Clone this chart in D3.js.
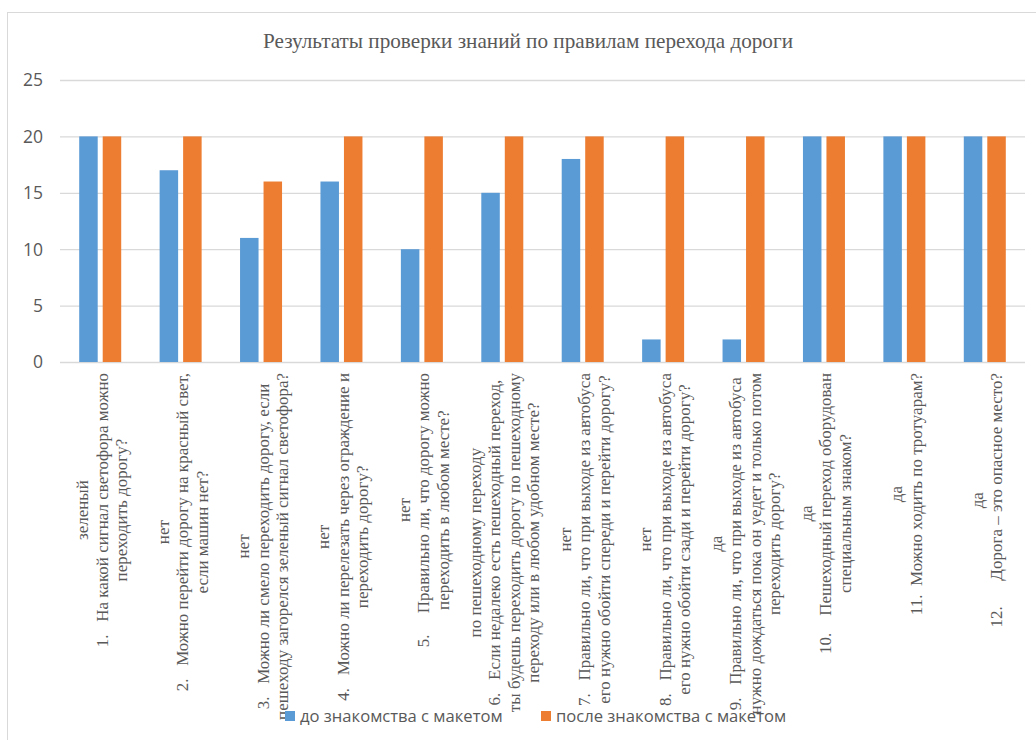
<!DOCTYPE html>
<html>
<head>
<meta charset="utf-8">
<script src="https://cdn.jsdelivr.net/npm/d3@7"></script>
<style>
    html, body { margin: 0; padding: 0; background: #fff; }
    svg { display: block; }
    .serif { font-family: "Liberation Serif", "Tinos", "Times New Roman", Times, "DejaVu Serif", serif; }
    .sans { font-family: "Open Sans", "Noto Sans", sans-serif; }
    .cat-label { white-space: pre; }
</style>
</head>
<body>
<svg id="chart" width="1036" height="740"></svg>
<script>
"use strict";

const title = "Результаты проверки знаний по правилам перехода дороги";

// answer line shown above each question
const answers = ["зеленый", "нет", "нет", "нет", "нет", "по пешеходному переходу",
    "нет", "нет", "да", "да", "да", "да"];

// question text, already broken into lines as in the picture
const questions = [
    ["1.   На какой сигнал светофора можно", "переходить дорогу?"],
    ["2.   Можно перейти дорогу на красный свет,", "если машин нет?"],
    ["3.   Можно ли смело переходить дорогу, если", "пешеходу загорелся зеленый сигнал светофора?"],
    ["4.   Можно ли перелезать через ограждение и", "переходить дорогу?"],
    ["5.     Правильно ли, что дорогу можно", "переходить в любом месте?"],
    ["6.   Если недалеко есть пешеходный переход,", "ты будешь переходить дорогу по пешеходному", "переходу или в любом удобном месте?"],
    ["7.   Правильно ли, что при выходе из автобуса", "его нужно обойти спереди и перейти дорогу?"],
    ["8.   Правильно ли, что при выходе из автобуса", "его нужно обойти сзади и перейти дорогу?"],
    ["9.   Правильно ли, что при выходе из автобуса", "нужно дождаться пока он уедет и только потом", "переходить дорогу?"],
    ["10.    Пешеходный переход оборудован", "специальным знаком?"],
    ["11.  Можно ходить по тротуарам?"],
    ["12.      Дорога – это опасное место?"]
];

const seriesNames = ["до знакомства с макетом", "после знакомства с макетом"];
const before = [20, 17, 11, 16, 10, 15, 18, 2, 2, 20, 20, 20];
const after = [20, 20, 16, 20, 20, 20, 20, 20, 20, 20, 20, 20];
const yTicks = [0, 5, 10, 15, 20, 25];

const colors = ["#5B9BD5", "#ED7D31"];
const textGray = "#595959";

const svg = d3.select("#chart");

// outer chart border
svg.append("rect")
    .attr("x", 7.5).attr("y", 12.5)
    .attr("width", 1040).attr("height", 740)
    .attr("fill", "none")
    .attr("stroke", "#d9d9d9");

svg.append("text")
    .attr("class", "serif")
    .attr("x", 528).attr("y", 48)
    .attr("text-anchor", "middle")
    .attr("font-size", 21.2)
    .attr("fill", textGray)
    .text(title);

const plotLeft = 60, plotRight = 1025, plotTop = 80, plotBottom = 362;
const idx = d3.range(answers.length);

const xScale = d3.scaleBand().domain(idx).range([plotLeft, plotRight]).padding(0);
const yScale = d3.scaleLinear().domain([0, 25]).range([plotBottom, plotTop]);

// gridlines
const grid = svg.append("g")
    .attr("transform", `translate(${plotLeft}, 0)`)
    .call(d3.axisLeft(yScale).tickValues(yTicks).tickSize(-(plotRight - plotLeft)).tickFormat(""));
grid.select(".domain").remove();
grid.selectAll("line").attr("stroke", "#d9d9d9").attr("stroke-width", 1.3);

// y tick labels
svg.append("g").selectAll("text")
    .data(yTicks).enter().append("text")
    .attr("class", "sans")
    .attr("x", 43)
    .attr("y", (d) => yScale(d))
    .attr("dy", "0.36em")
    .attr("text-anchor", "end")
    .attr("font-size", 17.5)
    .attr("fill", textGray)
    .text((d) => d);

// bars
const barW = 18.5, gap = 5;
const series = [before, after];
series.forEach((vals, s) => {
    svg.append("g").selectAll("rect")
        .data(vals).enter().append("rect")
        .attr("x", (v, i) => {
            const c = xScale(i) + xScale.bandwidth() / 2;
            return s === 0 ? c - gap / 2 - barW : c + gap / 2;
        })
        .attr("y", (v) => yScale(v))
        .attr("width", barW)
        .attr("height", (v) => plotBottom - yScale(v))
        .attr("fill", colors[s]);
});

// rotated category labels
const labelTop = 373;
const lineH = 19.5;
const labels = svg.append("g");
idx.forEach((i) => {
    const lines = [answers[i]].concat(questions[i]);
    const cx = xScale(i) + xScale.bandwidth() / 2 + 2;
    const texts = lines.map((ln) => labels.append("text")
        .attr("class", "serif cat-label")
        .attr("text-anchor", "middle")
        .attr("dominant-baseline", "central")
        .attr("font-size", 17)
        .attr("fill", textGray)
        .text(ln));
    const maxLen = d3.max(texts, (t) => t.node().getComputedTextLength());
    const cy = labelTop + maxLen / 2;
    texts.forEach((t, k) => {
        const x = cx + (k - (lines.length - 1) / 2) * lineH;
        t.attr("transform", `translate(${x}, ${cy}) rotate(-90)`);
    });
});

// legend
const legendX = [285, 541];
const legend = svg.append("g");
seriesNames.forEach((name, s) => {
    legend.append("rect")
        .attr("x", legendX[s]).attr("y", 711)
        .attr("width", 10).attr("height", 10)
        .attr("fill", colors[s]);
    legend.append("text")
        .attr("class", "sans")
        .attr("x", legendX[s] + 15).attr("y", 722)
        .attr("font-size", 16.6)
        .attr("fill", textGray)
        .text(name);
});
</script>
</body>
</html>
